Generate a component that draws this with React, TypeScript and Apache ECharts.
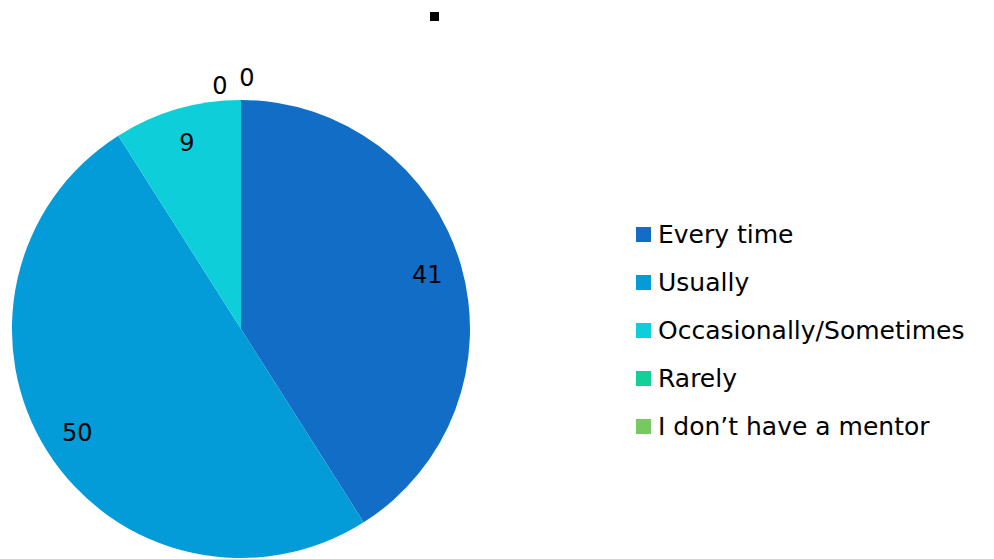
import React, { useEffect, useRef } from "react";
import * as echarts from "echarts";

const categories = ["Every time", "Usually", "Occasionally/Sometimes", "Rarely", "I don’t have a mentor"];
const values = [41, 50, 9, 0, 0];
const colors = ["#116DC6", "#039CD8", "#0ECFD9", "#13CF98", "#78C861"];

const CX = 241;
const CY = 329;
const R = 229;

export default function App() {
  const ref = useRef<HTMLDivElement>(null);
  useEffect(() => {
    if (!ref.current) return;
    const chart = echarts.init(ref.current, null, { renderer: "svg" });
    const font = "'DejaVu Sans', Verdana, sans-serif";
    const baseData = categories.map((name, i) => ({
      name,
      value: values[i],
      itemStyle: { color: colors[i] },
    }));
    const labelData = categories.map((name, i) => ({
      name,
      value: values[i],
      label:
        values[i] === 0
          ? { show: true, position: "outside" }
          : { show: true, position: "inside" },
    }));
    // zero-slice labels sit just above the top of the pie, one left and one right
    const zeroOffsets = [
      { dx: -21, dy: -14 },
      { dx: 6, dy: -22 },
    ];
    chart.setOption({
      animation: false,
      graphic: [
        { type: "rect", shape: { x: 430, y: 12, width: 9, height: 9 }, style: { fill: "#000" } },
      ],
      legend: {
        orient: "vertical",
        left: 636,
        top: 222,
        padding: 0,
        itemWidth: 15,
        itemHeight: 15,
        itemGap: 23,
        icon: "rect",
        data: categories,
        textStyle: { fontFamily: font, fontSize: 25, color: "#000", padding: [0, 0, 0, 2] },
      },
      series: [
        {
          type: "pie",
          center: [CX, CY],
          radius: [0, R],
          startAngle: 90,
          clockwise: true,
          label: { show: false },
          labelLine: { show: false },
          emphasis: { disabled: true },
          data: baseData,
        },
        {
          type: "pie",
          center: [CX, CY],
          radius: [153, R],
          startAngle: 90,
          clockwise: true,
          silent: true,
          avoidLabelOverlap: false,
          itemStyle: { color: "rgba(0,0,0,0)" },
          label: {
            fontFamily: font,
            fontSize: 24,
            color: "#000",
            formatter: "{c}",
          },
          labelLine: { show: false, length: 0, length2: 0 },
          labelLayout: (params: any) => {
            if (values[params.dataIndex] !== 0) return {};
            const k = categories.slice(0, params.dataIndex).filter((_, j) => values[j] === 0).length;
            const o = zeroOffsets[k] || zeroOffsets[0];
            return {
              x: CX + o.dx,
              y: CY - R + o.dy,
              align: "center",
              verticalAlign: "middle",
            };
          },
          emphasis: { disabled: true },
          data: labelData,
        },
      ],
    });
    return () => chart.dispose();
  }, []);
  return (
    <div
      ref={ref}
      style={{ position: "absolute", left: 0, top: 0, width: 994, height: 559 }}
    />
  );
}
